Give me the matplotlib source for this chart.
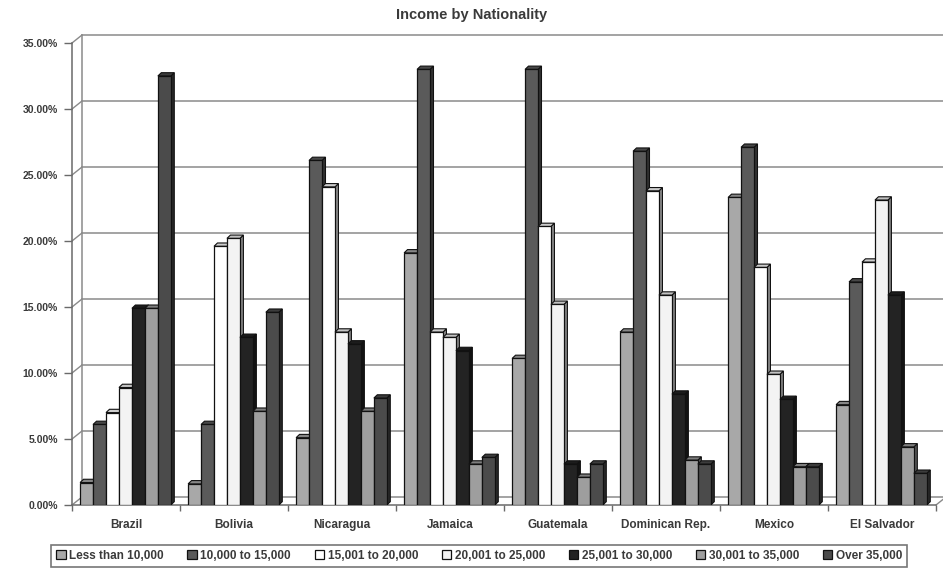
import matplotlib
matplotlib.use("Agg")
import matplotlib.pyplot as plt
from matplotlib.patches import Polygon
from matplotlib.transforms import ScaledTranslation
from matplotlib.colors import to_rgb

# ---- data (percent of respondents per income bracket) ----
countries = ["Brazil", "Bolivia", "Nicaragua", "Jamaica", "Guatemala",
             "Dominican Rep.", "Mexico", "El Salvador"]
brackets = ["Less than 10,000", "10,000 to 15,000", "15,001 to 20,000",
            "20,001 to 25,000", "25,001 to 30,000", "30,001 to 35,000",
            "Over 35,000"]

less_10k = [1.7, 1.6, 5.1, 19.1, 11.1, 13.1, 23.3, 7.6]
k10_15 = [6.1, 6.1, 26.1, 33.0, 33.0, 26.8, 27.1, 16.9]
k15_20 = [7.0, 19.6, 24.1, 13.1, 21.1, 23.8, 18.0, 18.4]
k20_25 = [8.9, 20.2, 13.1, 12.7, 15.2, 15.9, 9.9, 23.1]
k25_30 = [14.9, 12.7, 12.2, 11.7, 3.1, 8.4, 8.0, 15.9]
k30_35 = [14.9, 7.1, 7.1, 3.1, 2.1, 3.4, 2.9, 4.4]
over_35k = [32.5, 14.6, 8.1, 3.6, 3.1, 3.1, 2.9, 2.4]

series = [less_10k, k10_15, k15_20, k20_25, k25_30, k30_35, over_35k]
y_ticks = [0, 5, 10, 15, 20, 25, 30, 35]

face_colors = ["#a8a8a8", "#5a5a5a", "#ffffff", "#f3f3f3",
               "#232323", "#9e9e9e", "#4b4b4b"]

plt.rcParams["font.family"] = ["Liberation Sans", "DejaVu Sans"]
TEXT = "#3a3a3a"
GRID = "#8a8a8a"

fig = plt.figure(figsize=(9.43, 5.70), dpi=100)
ax = fig.add_axes([72 / 943, 1 - 505 / 570, 864 / 943, (505 - 43) / 570])

n_cat = len(countries)
n_ser = len(series)
bar_w = 0.12
depth_x = 0.032          # category units
depth_y = 0.25           # percent units


def shade(c, f):
    r, g, b = to_rgb(c)
    return (r * f, g * f, b * f)


# back wall / floor offset (3-D look)
wall = ax.transData + ScaledTranslation(10 / 100, 8 / 100, fig.dpi_scale_trans)
ywall = ax.get_yaxis_transform() + ScaledTranslation(10 / 100, 8 / 100, fig.dpi_scale_trans)

for v in y_ticks:
    ax.plot([0, 1], [v, v], transform=ywall, color=GRID, lw=1.1,
            clip_on=False, zorder=1)
    ax.annotate("", xy=(0, v), xycoords=ax.get_yaxis_transform(),
                xytext=(10, 8), textcoords="offset pixels",
                arrowprops=dict(arrowstyle="-", color=GRID, lw=1.0,
                                shrinkA=0, shrinkB=0), zorder=1)
ax.plot([-0.5, -0.5], [0, 35], transform=wall, color=GRID, lw=1.1,
        clip_on=False, zorder=1)
ax.annotate("", xy=(n_cat - 0.5, 0), xycoords="data",
            xytext=(10, 8), textcoords="offset pixels",
            arrowprops=dict(arrowstyle="-", color=GRID, lw=1.0,
                            shrinkA=0, shrinkB=0), zorder=1)

# bars with a small side and top face
z = 3
for c in range(n_cat):
    for s in range(n_ser):
        v = series[s][c]
        x0 = c - 0.425 + s * bar_w
        x1 = x0 + bar_w
        col = face_colors[s]
        side = Polygon([(x1, 0), (x1 + depth_x, depth_y),
                        (x1 + depth_x, v + depth_y), (x1, v)],
                       closed=True, facecolor=shade(col, 0.55),
                       edgecolor="#111111", lw=0.8, zorder=z)
        top = Polygon([(x0, v), (x0 + depth_x, v + depth_y),
                       (x1 + depth_x, v + depth_y), (x1, v)],
                      closed=True, facecolor=shade(col, 0.8),
                      edgecolor="#111111", lw=0.8, zorder=z)
        ax.add_patch(side)
        ax.add_patch(top)
        ax.bar(x0, v, width=bar_w, align="edge", color=col,
               edgecolor="#111111", linewidth=0.9, zorder=z,
               label=brackets[s] if c == 0 else None)
        z += 0.01

ax.set_xlim(-0.5, n_cat - 0.5)
ax.set_ylim(0, 35)

for sp in ("top", "right"):
    ax.spines[sp].set_visible(False)
for sp in ("left", "bottom"):
    ax.spines[sp].set_color("#6a6a6a")
    ax.spines[sp].set_linewidth(1.1)

ax.set_yticks(y_ticks)
ax.set_yticklabels([f"{v:.2f}%" for v in y_ticks])
ax.tick_params(axis="y", length=6, width=1.0, color="#6a6a6a",
               labelsize=7.5, labelcolor=TEXT, pad=4)
for t in ax.get_yticklabels():
    t.set_fontweight("bold")

ax.set_xticks([c + 0.5 for c in range(-1, n_cat)])
ax.set_xticklabels([])
ax.tick_params(axis="x", which="major", length=4, width=1.0, color="#6a6a6a")
ax.set_xticks(range(n_cat), minor=True)
ax.set_xticklabels(countries, minor=True, fontsize=8.5, fontweight="bold",
                   color=TEXT)
ax.tick_params(axis="x", which="minor", length=0, pad=10)

fig.text(0.5, 1 - 15 / 570, "Income by Nationality", ha="center",
         va="center", fontsize=10.5, fontweight="bold", color=TEXT)

leg = fig.legend(loc="center", bbox_to_anchor=(479 / 943, 1 - 556 / 570),
                 bbox_transform=fig.transFigure, ncol=7, fontsize=8.5,
                 frameon=True, fancybox=False, edgecolor="#555555",
                 handlelength=0.8, handleheight=0.8, handletextpad=0.3,
                 columnspacing=2.0, borderpad=0.45, borderaxespad=0)
leg.get_frame().set_linewidth(1.2)
for t in leg.get_texts():
    t.set_fontweight("bold")
    t.set_color(TEXT)

fig.savefig("out.png", dpi=100, facecolor="white")
